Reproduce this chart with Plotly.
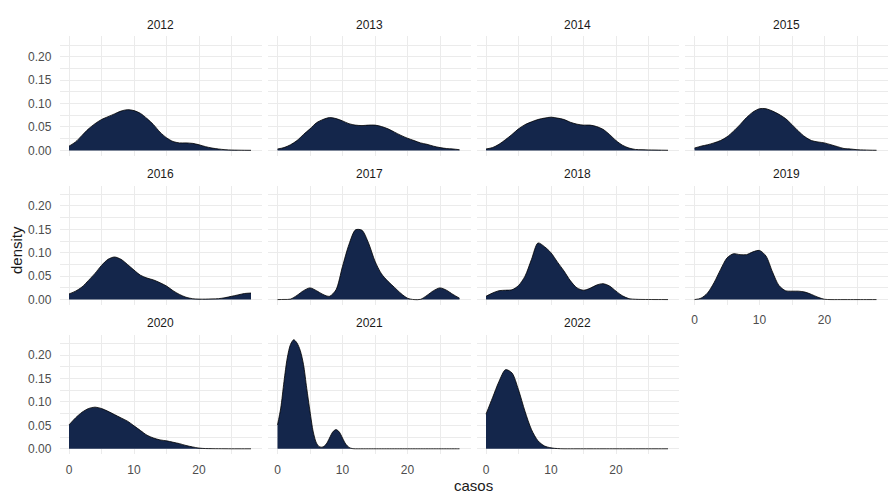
import plotly.graph_objects as go

# Evaluation grids for the estimated densities (casos)
casos = list(range(29))
casos_half = [k / 2 for k in range(57)]

years = ["2012", "2013", "2014", "2015", "2016", "2017",
         "2018", "2019", "2020", "2021", "2022"]

dens_2012 = [0.009, 0.018, 0.032, 0.046, 0.057, 0.066, 0.072, 0.078, 0.084, 0.087,
             0.085, 0.079, 0.068, 0.055, 0.039, 0.027, 0.019, 0.016, 0.016, 0.015,
             0.012, 0.008, 0.005, 0.003, 0.0015, 0.0008, 0.0005, 0.0003, 0.0002]
dens_2013 = [0.003, 0.006, 0.012, 0.021, 0.034, 0.046, 0.059, 0.066, 0.070, 0.068,
             0.063, 0.057, 0.054, 0.053, 0.054, 0.054, 0.051, 0.046, 0.039, 0.032,
             0.026, 0.021, 0.016, 0.013, 0.009, 0.006, 0.004, 0.003, 0.0015]
dens_2014 = [0.003, 0.006, 0.013, 0.023, 0.034, 0.046, 0.055, 0.061, 0.066, 0.069,
             0.071, 0.069, 0.066, 0.060, 0.056, 0.054, 0.054, 0.051, 0.045, 0.034,
             0.021, 0.011, 0.005, 0.002, 0.0015, 0.001, 0.0008, 0.0005, 0.0003]
dens_2015 = [0.005, 0.009, 0.012, 0.016, 0.021, 0.029, 0.041, 0.055, 0.070, 0.082,
             0.089, 0.089, 0.084, 0.077, 0.068, 0.055, 0.041, 0.029, 0.021, 0.018,
             0.016, 0.012, 0.008, 0.004, 0.003, 0.0015, 0.001, 0.0005, 0.0003]
dens_2016 = [0.012, 0.018, 0.027, 0.041, 0.056, 0.073, 0.086, 0.091, 0.086, 0.075,
             0.063, 0.052, 0.046, 0.042, 0.036, 0.029, 0.019, 0.011, 0.005, 0.002,
             0.001, 0.001, 0.0015, 0.002, 0.004, 0.007, 0.010, 0.013, 0.014]
dens_2017 = [0.0, 0.0003, 0.001, 0.009, 0.019, 0.025, 0.019, 0.011, 0.007, 0.021,
             0.071, 0.118, 0.149, 0.148, 0.121, 0.082, 0.055, 0.039, 0.026, 0.013,
             0.003, 0.0, 0.0005, 0.009, 0.019, 0.025, 0.020, 0.011, 0.003]
dens_2018 = [0.007, 0.014, 0.019, 0.020, 0.021, 0.030, 0.050, 0.086, 0.121, 0.113,
             0.100, 0.080, 0.061, 0.040, 0.025, 0.020, 0.024, 0.031, 0.034, 0.029,
             0.018, 0.008, 0.002, 0.0007, 0.0003, 0.0002, 0.0001, 0.0001, 0.0]
dens_2019 = [0.0, 0.003, 0.014, 0.036, 0.064, 0.089, 0.098, 0.096, 0.096, 0.102,
             0.105, 0.093, 0.059, 0.030, 0.019, 0.018, 0.018, 0.016, 0.011, 0.005,
             0.0007, 0.0, 0.0, 0.0, 0.0, 0.0, 0.0, 0.0, 0.0]
dens_2020 = [0.051, 0.066, 0.078, 0.086, 0.089, 0.086, 0.080, 0.073, 0.066, 0.059,
             0.049, 0.039, 0.029, 0.023, 0.019, 0.017, 0.014, 0.011, 0.007, 0.004,
             0.0015, 0.0005, 0.0003, 0.0002, 0.0001, 0.0, 0.0, 0.0, 0.0]
# 2021 is sharply peaked, so it is tabulated every half unit of casos
dens_2021 = [0.051, 0.087, 0.144, 0.194, 0.223, 0.233, 0.226, 0.210, 0.180, 0.129,
             0.080, 0.036, 0.012, 0.004, 0.004, 0.010, 0.023, 0.036, 0.041, 0.036,
             0.023, 0.010, 0.003, 0.0005, 0.0, 0.0, 0.0, 0.0, 0.0, 0.0,
             0.0, 0.0, 0.0, 0.0, 0.0, 0.0, 0.0, 0.0, 0.0, 0.0,
             0.0, 0.0, 0.0, 0.0, 0.0, 0.0, 0.0, 0.0, 0.0, 0.0,
             0.0, 0.0, 0.0, 0.0, 0.0, 0.0, 0.0]
dens_2022 = [0.074, 0.109, 0.144, 0.169, 0.162, 0.126, 0.080, 0.041, 0.017, 0.006,
             0.002, 0.0005, 0.0, 0.0, 0.0, 0.0, 0.0, 0.0, 0.0, 0.0,
             0.0, 0.0, 0.0, 0.0, 0.0, 0.0, 0.0, 0.0, 0.0]

densities = [dens_2012, dens_2013, dens_2014, dens_2015, dens_2016, dens_2017,
             dens_2018, dens_2019, dens_2020, dens_2021, dens_2022]
grids = [casos] * 9 + [casos_half, casos]

x_ticks = [0, 10, 20]
x_minor = [5, 15, 25]
y_ticks = [0.0, 0.05, 0.10, 0.15, 0.20]
y_ticktext = ["0.00", "0.05", "0.10", "0.15", "0.20"]
y_minor = [0.025, 0.075, 0.125, 0.175, 0.225]

# ---- layout geometry (pixels) ----
W, H = 888, 497
NCOL = 4
col_step = 208.5
x_zero_px = 69.0          # pixel of casos = 0 in the first column
px_per_unit_x = 6.5
x_range = [-1.415, 29.715]
row_zero_px = [151.0, 300.8, 450.6]   # pixel of density = 0 in each row
px_per_unit_y = 470.0
y_range = [-0.0116, 0.2436]

FILL = "#14264b"
GRID = "#ebebeb"
FONT = "Liberation Sans, Arial, sans-serif"

fig = go.Figure()
annotations = []
layout_axes = {}

for i, (year, xs, dens) in enumerate(zip(years, grids, densities)):
    r, c = divmod(i, NCOL)
    suffix = "" if i == 0 else str(i + 1)
    xa, ya = "x" + suffix, "y" + suffix

    fig.add_trace(go.Scatter(
        x=xs, y=dens, xaxis=xa, yaxis=ya,
        mode="lines", line=dict(color="black", width=0.8, shape="spline", smoothing=0.8),
        fill="tozeroy", fillcolor=FILL, hoverinfo="skip", showlegend=False,
    ))

    x0 = x_zero_px + c * col_step
    left = x0 + x_range[0] * px_per_unit_x
    right = x0 + x_range[1] * px_per_unit_x
    y0 = row_zero_px[r]
    bottom = y0 - y_range[0] * px_per_unit_y
    top = y0 - y_range[1] * px_per_unit_y

    # bottom panel of each column carries the x labels
    show_x = (i + NCOL) >= len(years)
    show_y = c == 0

    layout_axes["xaxis" + suffix] = dict(
        domain=[left / W, right / W], range=x_range, anchor=ya,
        tickvals=x_ticks, showticklabels=show_x,
        ticks="outside", ticklen=4, tickcolor="rgba(0,0,0,0)",
        tickfont=dict(family=FONT, size=12, color="#4d4d4d"),
        showgrid=True, gridcolor=GRID, gridwidth=1,
        minor=dict(tickvals=x_minor, showgrid=True, gridcolor=GRID, gridwidth=0.6),
        zeroline=False, showline=False, fixedrange=True,
    )
    layout_axes["yaxis" + suffix] = dict(
        domain=[(H - bottom) / H, (H - top) / H], range=y_range, anchor=xa,
        tickvals=y_ticks, ticktext=y_ticktext, showticklabels=show_y,
        ticks="outside", ticklen=5, tickcolor="rgba(0,0,0,0)",
        tickfont=dict(family=FONT, size=12, color="#4d4d4d"),
        showgrid=True, gridcolor=GRID, gridwidth=1,
        minor=dict(tickvals=y_minor, showgrid=True, gridcolor=GRID, gridwidth=0.6),
        zeroline=False, showline=False, fixedrange=True,
    )

    # facet strip label
    annotations.append(dict(
        text=year, xref="paper", yref="paper",
        x=(left + right) / 2 / W, y=(H - (top - 11.5)) / H,
        xanchor="center", yanchor="middle", showarrow=False,
        font=dict(family=FONT, size=12, color="#1a1a1a"),
    ))

# axis titles
panels_left = x_zero_px + x_range[0] * px_per_unit_x
panels_right = x_zero_px + (NCOL - 1) * col_step + x_range[1] * px_per_unit_x
annotations.append(dict(
    text="casos", xref="paper", yref="paper",
    x=(panels_left + panels_right) / 2 / W, y=(H - 487.5) / H,
    xanchor="center", yanchor="middle", showarrow=False,
    font=dict(family=FONT, size=15, color="#1a1a1a"),
))
annotations.append(dict(
    text="density", xref="paper", yref="paper",
    x=17 / W, y=(H - 251) / H, textangle=-90,
    xanchor="center", yanchor="middle", showarrow=False,
    font=dict(family=FONT, size=15, color="#1a1a1a"),
))

fig.update_layout(
    width=W, height=H,
    margin=dict(l=0, r=0, t=0, b=0),
    paper_bgcolor="white", plot_bgcolor="white",
    annotations=annotations,
    **layout_axes,
)

fig.write_html("out.html")
